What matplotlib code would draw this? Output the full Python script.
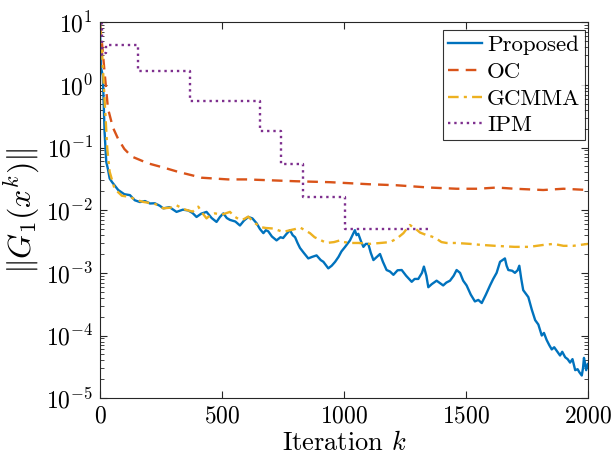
import matplotlib
matplotlib.use("Agg")
import matplotlib.pyplot as plt
import numpy as np

plt.rcParams['font.family'] = ['cmr10', 'DejaVu Serif']
plt.rcParams['mathtext.fontset'] = 'cm'
plt.rcParams['axes.formatter.use_mathtext'] = True

# Proposed
it_prop = [0, 4, 12, 19, 26, 33, 40, 50, 60, 75, 87, 100, 123, 143, 164, 185, 205, 225, 245,
           260, 285, 314, 340, 362, 380, 396, 415, 437, 458, 478, 492, 506, 520, 533, 555,
           574, 590, 608, 625, 642, 656, 670, 680, 690, 705, 724, 740, 751, 765, 779, 790,
           800, 810, 820, 835, 854, 870, 888, 905, 916, 936, 950, 964, 978, 990, 1005, 1025,
           1045, 1052, 1059, 1070, 1080, 1090, 1100, 1110, 1121, 1135, 1148, 1160, 1175, 1189,
           1203, 1220, 1237, 1255, 1278, 1290, 1305, 1320, 1328, 1338, 1346, 1360, 1380, 1395,
           1407, 1420, 1435, 1450, 1462, 1476, 1489, 1503, 1520, 1537, 1551, 1565, 1582, 1599,
           1612, 1626, 1640, 1650, 1660, 1667, 1674, 1690, 1701, 1712, 1719, 1727, 1735, 1756,
           1770, 1784, 1797, 1811, 1820, 1831, 1842, 1852, 1862, 1875, 1886, 1895, 1907, 1917,
           1927, 1937, 1948, 1958, 1965, 1975, 1980, 1984, 1989, 1993, 2000]
g_prop = [9, 1.9, 1.4, 0.18, 0.059, 0.045, 0.032, 0.028, 0.025, 0.021, 0.0195, 0.018, 0.0174,
          0.0144, 0.0135, 0.0140, 0.0128, 0.0129, 0.0118, 0.0107, 0.0112, 0.0094, 0.0102,
          0.0099, 0.0090, 0.0078, 0.0088, 0.0094, 0.0075, 0.0065, 0.0078, 0.0089, 0.0075,
          0.0070, 0.0066, 0.0057, 0.0068, 0.0078, 0.0074, 0.0062, 0.0050, 0.0043, 0.0048,
          0.0046, 0.0038, 0.0033, 0.0037, 0.0036, 0.0042, 0.0048, 0.0040, 0.0037, 0.0030,
          0.0025, 0.0021, 0.0017, 0.0018, 0.0019, 0.0016, 0.0015, 0.00118, 0.0013, 0.0015,
          0.0018, 0.0022, 0.0026, 0.0033, 0.0048, 0.0040, 0.0042, 0.0032, 0.0026, 0.0029,
          0.0029, 0.0021, 0.0016, 0.0018, 0.0020, 0.0015, 0.00111, 0.00105, 0.00093, 0.0011,
          0.00111, 0.0009, 0.00072, 0.0008, 0.0008, 0.0010, 0.00126, 0.0009, 0.00059, 0.00066,
          0.00075, 0.00068, 0.00063, 0.00070, 0.00075, 0.0009, 0.00111, 0.0010, 0.00075,
          0.00063, 0.00045, 0.00035, 0.00037, 0.00033, 0.00045, 0.00063, 0.00080, 0.0010,
          0.0015, 0.0016, 0.0017, 0.0013, 0.00111, 0.00108, 0.00100, 0.0011, 0.0013, 0.0008,
          0.00053, 0.00041, 0.00026, 0.000176, 0.00015, 0.0001, 0.00011, 8.5e-5, 7e-5, 6e-5,
          6.5e-5, 5.5e-5, 4.8e-5, 5.5e-5, 4.5e-5, 4.2e-5, 3.7e-5, 4.2e-5, 2.8e-5, 2.9e-5,
          2.6e-5, 2.3e-5, 3.0e-5, 4.4e-5, 3.5e-5, 2.8e-5, 3.5e-5]

# OC
it_oc = [0, 10, 19, 33, 53, 74, 100, 130, 197, 260, 320, 417, 525, 600, 700, 800, 943, 1100,
         1216, 1350, 1462, 1550, 1626, 1700, 1817, 1900, 2000]
g_oc = [9.5, 4, 1.6, 0.42, 0.21, 0.139, 0.095, 0.072, 0.056, 0.048, 0.041, 0.033, 0.031,
        0.031, 0.030, 0.029, 0.028, 0.026, 0.025, 0.023, 0.022, 0.022, 0.023, 0.022, 0.021,
        0.022, 0.021]

# GCMMA
it_gc = [0, 8, 19, 30, 40, 60, 90, 123, 150, 180, 219, 240, 260, 290, 314, 340, 362, 380,
         403, 420, 437, 455, 471, 500, 533, 550, 574, 590, 608, 630, 656, 680, 711, 730, 751,
         780, 800, 820, 840, 861, 880, 900, 929, 960, 984, 1000, 1025, 1060, 1107, 1150, 1189,
         1216, 1244, 1260, 1271, 1285, 1298, 1312, 1339, 1360, 1380, 1400, 1421, 1460, 1517,
         1560, 1620, 1700, 1760, 1820, 1860, 1900, 1940, 2000]
g_gc = [9, 3.8, 0.6, 0.097, 0.041, 0.022, 0.017, 0.0163, 0.0145, 0.0135, 0.0128, 0.0120,
        0.0107, 0.0110, 0.0120, 0.0105, 0.0099, 0.0095, 0.0114, 0.0090, 0.0074, 0.0085,
        0.0089, 0.0085, 0.0094, 0.0080, 0.0070, 0.0072, 0.0079, 0.0065, 0.0054, 0.0052,
        0.0051, 0.0048, 0.0045, 0.0048, 0.0050, 0.0053, 0.0048, 0.0043, 0.0037, 0.0034,
        0.0030, 0.0031, 0.0033, 0.0031, 0.0030, 0.0030, 0.0029, 0.0030, 0.0031, 0.0035,
        0.0043, 0.0052, 0.0058, 0.0053, 0.0049, 0.0044, 0.0040, 0.0038, 0.0035, 0.0031,
        0.0030, 0.0030, 0.0029, 0.0028, 0.0027, 0.0026, 0.0026, 0.0028, 0.0029, 0.0027,
        0.0027, 0.0029]

# IPM (step levels)
it_ipm = [0, 8, 15, 25, 155, 370, 656, 741, 833, 1005, 1349]
g_ipm = [9.5, 3.0, 3.2, 4.3, 1.67, 0.555, 0.182, 0.0556, 0.016, 0.0051, 0.0051]

fig = plt.figure(figsize=(6.13, 4.63), dpi=100)
ax = fig.add_axes([0.163, 0.140, 0.796, 0.812])

ax.semilogy(it_prop, g_prop, '-', color='#0072BD', lw=1.7, label='Proposed')
ax.semilogy(it_oc, g_oc, '--', color='#D95319', lw=1.7, dashes=(4.5, 3), label='OC')
ax.semilogy(it_gc, g_gc, '-.', color='#EDB120', lw=1.7, dashes=(4.5, 2.2, 1.3, 2.2), label='GCMMA')
ax.semilogy(it_ipm, g_ipm, ':', color='#7E2F8E', lw=1.7, drawstyle='steps-post', label='IPM')

ax.set_xlim(0, 2000)
ax.set_ylim(1e-5, 10)
ax.set_xticks([0, 500, 1000, 1500, 2000])
ax.tick_params(which='both', direction='in', top=True, right=True, labelsize=17,
               color='#262626')
ax.tick_params(which='major', length=5, pad=5)
ax.tick_params(which='minor', length=3)
for s in ax.spines.values():
    s.set_color('#262626')
    s.set_linewidth(0.8)

ax.set_xlabel('Iteration $k$', fontsize=19, labelpad=3)
ax.set_ylabel(r'$\|G_1(x^k)\|$', fontsize=23, labelpad=3)

leg = ax.legend(loc='upper right', bbox_to_anchor=(0.994, 0.979), fontsize=16.5,
                frameon=True, fancybox=False, edgecolor='black', borderpad=0.2,
                labelspacing=0.3, handlelength=1.5, handletextpad=0.2, borderaxespad=0)
leg.get_frame().set_linewidth(0.8)

fig.savefig('out.png', dpi=100)
